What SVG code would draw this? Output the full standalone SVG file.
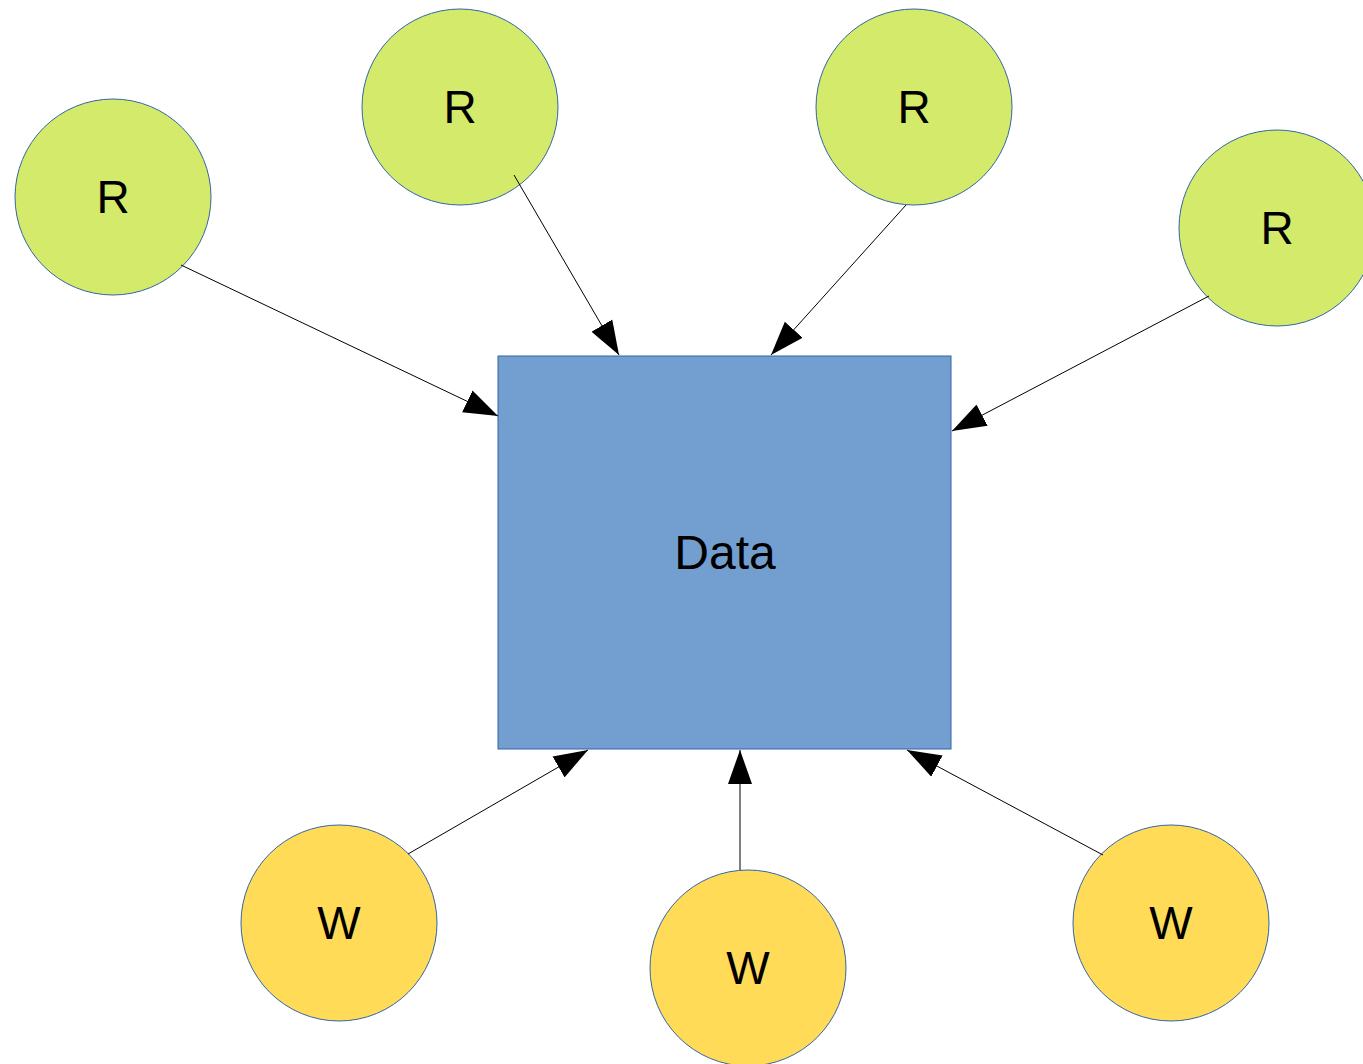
<svg xmlns="http://www.w3.org/2000/svg" width="1363" height="1064" viewBox="0 0 1363 1064">
  <style>
    .reader { fill: #d4ea6b; stroke: #3465a4; stroke-width: 1; }
    .writer { fill: #ffdb58; stroke: #3465a4; stroke-width: 1; }
    .store { fill: #729fcf; stroke: #3465a4; stroke-width: 1; }
    .label { font-family: "Liberation Sans", Arial, sans-serif; font-size: 46px; fill: #000; text-anchor: middle; }
    .big { font-size: 48px; }
    .edge { stroke: #000; stroke-width: 1; fill: none; marker-end: url(#arrow); }
  </style>
  <defs>
    <marker id="arrow" markerUnits="userSpaceOnUse" markerWidth="35" markerHeight="25" refX="34" refY="12" orient="auto" viewBox="0 0 35 24">
      <path d="M0,0 L34,12 L0,24 Z" fill="#000"/>
    </marker>
  </defs>
  <rect width="1363" height="1064" fill="#fff"/>

  <g id="data">
    <rect class="store" x="498" y="356" width="453" height="393"/>
    <text class="label big" x="725" y="569">Data</text>
  </g>

  <g id="reader-1">
    <circle class="reader" cx="113" cy="197" r="98"/>
    <text class="label" x="113" y="213">R</text>
  </g>
  <g id="reader-2">
    <circle class="reader" cx="460" cy="107" r="98"/>
    <text class="label" x="460" y="123">R</text>
  </g>
  <g id="reader-3">
    <circle class="reader" cx="914" cy="107" r="98"/>
    <text class="label" x="914" y="123">R</text>
  </g>
  <g id="reader-4">
    <circle class="reader" cx="1277" cy="228" r="98"/>
    <text class="label" x="1277" y="244">R</text>
  </g>

  <g id="writer-1">
    <circle class="writer" cx="339" cy="923" r="98"/>
    <text class="label" x="339" y="939">W</text>
  </g>
  <g id="writer-2">
    <circle class="writer" cx="748" cy="968" r="98"/>
    <text class="label" x="748" y="984">W</text>
  </g>
  <g id="writer-3">
    <circle class="writer" cx="1171" cy="923" r="98"/>
    <text class="label" x="1171" y="939">W</text>
  </g>

  <g id="connectors">
    <line class="edge" x1="181" y1="265" x2="498" y2="416"/>
    <line class="edge" x1="514" y1="175" x2="619" y2="355"/>
    <line class="edge" x1="906" y1="205" x2="771" y2="355"/>
    <line class="edge" x1="1209" y1="296" x2="952" y2="431"/>
    <line class="edge" x1="408" y1="854" x2="588" y2="750"/>
    <line class="edge" x1="740" y1="870" x2="740" y2="750"/>
    <line class="edge" x1="1103" y1="855" x2="907" y2="750"/>
  </g>
</svg>
